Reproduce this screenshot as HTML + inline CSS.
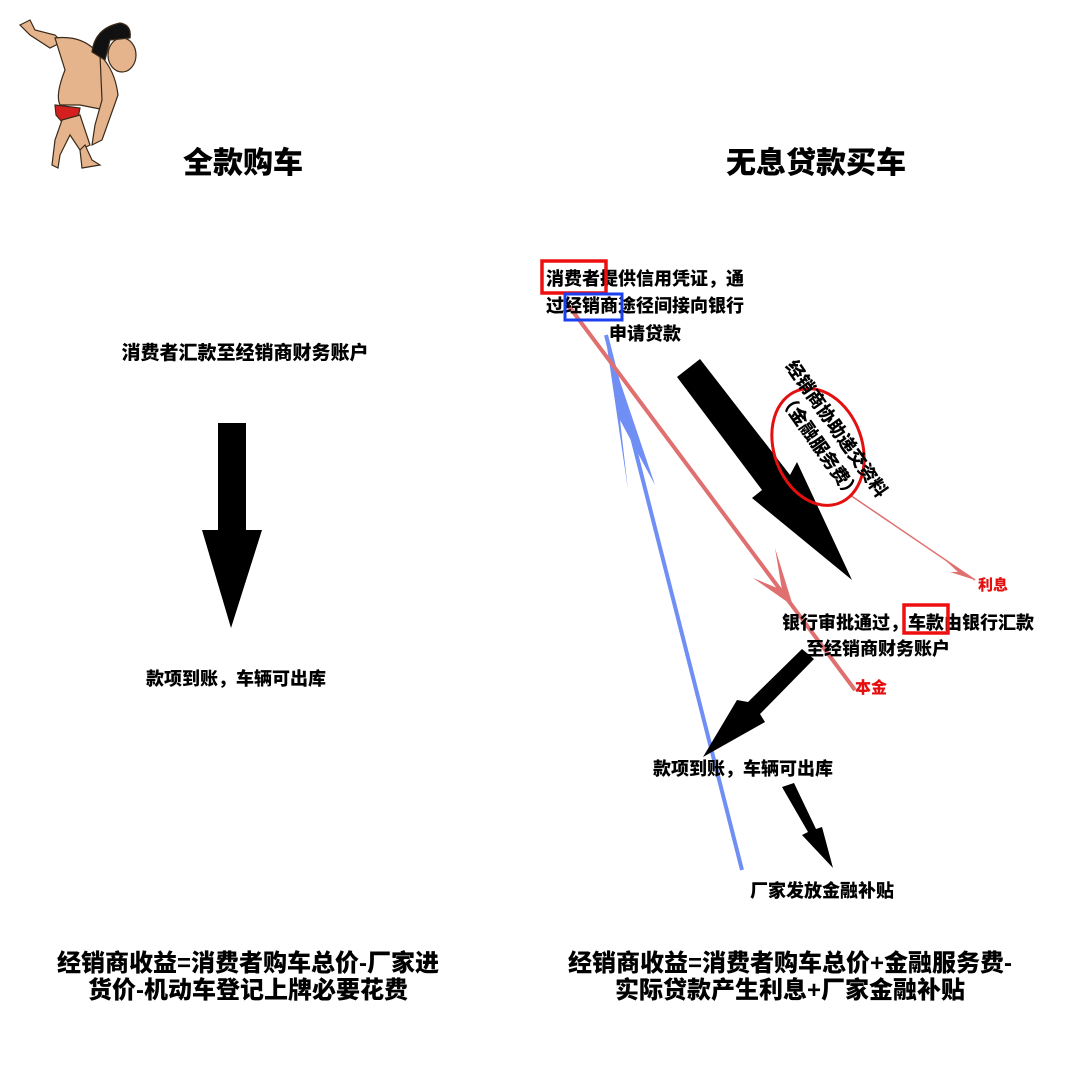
<!DOCTYPE html>
<html><head><meta charset="utf-8"><style>
html,body{margin:0;padding:0;background:#fff;}
svg{display:block;}
text{font-family:"Liberation Sans","Noto Sans CJK SC",sans-serif;font-weight:900;fill:#000;}
</style></head><body>
<svg width="1080" height="1080" viewBox="0 0 1080 1080" xmlns="http://www.w3.org/2000/svg">
<rect width="1080" height="1080" fill="#fff"/>
<g stroke="#3a2a1a" stroke-width="1.2">
  <path d="M20,25 L30,20 L35,30 L55,35 L62,42 L50,48 L30,35 Z" fill="#e6b48c"/>
  <path d="M55,38 Q80,35 95,50 L112,75 Q118,95 105,110 L95,108 L80,105 L60,105 Q55,95 65,70 Z" fill="#e6b48c"/>
  <path d="M100,55 Q115,70 118,95 L102,140 L92,145 L95,125 L102,100 Z" fill="#e6b48c"/>
  <ellipse cx="122" cy="55" rx="14" ry="17" fill="#e6b48c"/>
  <path d="M92,52 Q95,28 120,23 Q132,25 130,38 L110,40 L105,60 Z" fill="#111"/>
  <path d="M55,105 L80,108 L78,118 L62,122 L56,115 Z" fill="#d62020"/>
  <path d="M62,120 L80,115 L90,145 L80,150 L70,135 L60,155 L58,168 L52,165 L55,140 Z" fill="#e6b48c"/>
  <path d="M80,150 L85,145 L92,160 L100,165 L82,168 Z" fill="#e6b48c"/>
</g>
<text x="243" y="173" font-size="30" text-anchor="middle">全款购车</text>
<text x="816" y="173" font-size="30" text-anchor="middle">无息贷款买车</text>
<text x="245" y="359" font-size="19" text-anchor="middle">消费者汇款至经销商财务账户</text>
<polygon points="218,423 246,423 246,530 262,530 231,628 202,530 218,530" fill="#000"/>
<text x="236" y="685" font-size="18" text-anchor="middle">款项到账，车辆可出库</text>
<text x="248" y="971" font-size="24" text-anchor="middle">经销商收益=消费者购车总价-厂家进</text>
<text x="248" y="998" font-size="24" text-anchor="middle">货价-机动车登记上牌必要花费</text>
<line x1="742" y1="870" x2="606" y2="335" stroke="#6f8ff5" stroke-width="4"/>
<path d="M606,340 L628,490 L620,420 L655,485 Z" fill="#6f8ff5"/>
<line x1="568" y1="305" x2="855" y2="690" stroke="#e07070" stroke-width="4"/>
<path d="M793,606 L753,578 L782,590 L775,548 Z" fill="#e07070"/>
<line x1="850" y1="495" x2="975" y2="580" stroke="#e07070" stroke-width="1.5"/>
<path d="M975,580 L945,560 L958,572 L950,572 Z" fill="#e07070"/>
<polygon points="700,359 790,475 797,462 852,580 752,498 762,490 677,377" fill="#000"/>
<ellipse cx="818" cy="447" rx="44" ry="60" transform="rotate(-20 818 447)" fill="none" stroke="#e41010" stroke-width="3"/>
<text font-size="18" transform="translate(785,366) rotate(55)">经销商协助递交资料</text>
<text font-size="18" transform="translate(778,398) rotate(55)">（金融服务费）</text>
<text x="978" y="590" font-size="15" style="fill:#e41010">利息</text>
<text x="855" y="693" font-size="16" style="fill:#e41010">本金</text>
<text x="546" y="285" font-size="18">消费者提供信用凭证，通</text>
<text x="546" y="312" font-size="18">过经销商途径间接向银行</text>
<text x="645" y="340" font-size="18" text-anchor="middle">申请贷款</text>
<rect x="542" y="261" width="64" height="32" fill="none" stroke="#ee1010" stroke-width="3.5"/>
<rect x="565" y="294" width="57" height="26" fill="none" stroke="#1a3ff0" stroke-width="3"/>
<text x="782" y="629" font-size="18">银行审批通过，车款由银行汇款</text>
<text x="878" y="655" font-size="18" text-anchor="middle">至经销商财务账户</text>
<rect x="904" y="605" width="44" height="28" fill="none" stroke="#ee1010" stroke-width="3.5"/>
<polygon points="802,649 814,659 760,714 765,722 703,757 737,700 748,702" fill="#000"/>
<text x="743" y="775" font-size="18" text-anchor="middle">款项到账，车辆可出库</text>
<polygon points="782,787 794,783 816,829 822,827 833,868 802,835 808,832" fill="#000"/>
<text x="822" y="897" font-size="18" text-anchor="middle">厂家发放金融补贴</text>
<text x="790" y="971" font-size="24" text-anchor="middle">经销商收益=消费者购车总价+金融服务费-</text>
<text x="790" y="998" font-size="24" text-anchor="middle">实际贷款产生利息+厂家金融补贴</text>
</svg>
</body></html>
